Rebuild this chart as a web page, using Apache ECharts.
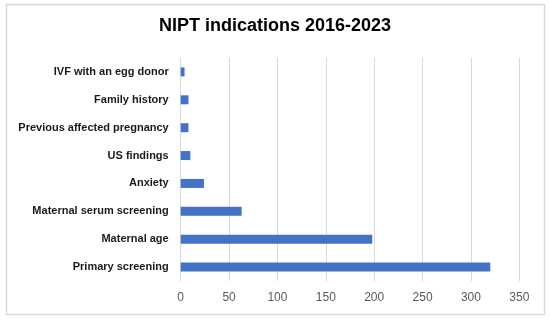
<!DOCTYPE html>
<html>
<head>
<meta charset="utf-8">
<script src="https://cdn.jsdelivr.net/npm/echarts@6/dist/echarts.min.js"></script>
<style>html,body{margin:0;padding:0;background:#fff}#c{width:550px;height:321px}</style>
</head>
<body>
<div id="c"></div>
<script>
const categories = ["Primary screening","Maternal age","Maternal serum screening","Anxiety","US findings","Previous affected pregnancy","Family history","IVF with an egg donor"];
const values = [320, 198, 63, 24, 10, 8, 8, 4];
const xTicks = [0, 50, 100, 150, 200, 250, 300, 350];

const chart = echarts.init(document.getElementById('c'), null, {renderer: 'canvas'});
chart.setOption({
  animation: false,
  backgroundColor: '#fff',
  title: {
    text: 'NIPT indications 2016-2023',
    left: 'center', top: 12,
    textStyle: {fontFamily: 'Liberation Sans', fontWeight: 'bold', fontSize: 18, color: '#000'}
  },
  graphic: [{
    type: 'rect', shape: {x: 6.5, y: 4.5, width: 538, height: 310},
    style: {fill: 'none', stroke: '#d9d9d9', lineWidth: 1.5}, silent: true, z: -1
  }],
  grid: {left: 180.7, right: 550 - 519.3, top: 58, bottom: 40, containLabel: false},
  xAxis: {
    type: 'value', min: xTicks[0], max: xTicks[xTicks.length - 1], interval: 50,
    axisLine: {show: false}, axisTick: {show: false},
    splitLine: {lineStyle: {color: '#d9d9d9', width: 1}},
    axisLabel: {color: '#595959', fontFamily: 'Liberation Sans', fontSize: 12, margin: 11}
  },
  yAxis: {
    type: 'category', data: categories,
    axisLine: {show: false}, axisTick: {show: false},
    axisLabel: {color: '#1a1a1a', fontFamily: 'Liberation Sans', fontWeight: 'bold', fontSize: 11, margin: 12}
  },
  series: [{
    type: 'bar', data: values, barWidth: 9,
    itemStyle: {color: '#4472c4'}
  }]
});
</script>
</body>
</html>
